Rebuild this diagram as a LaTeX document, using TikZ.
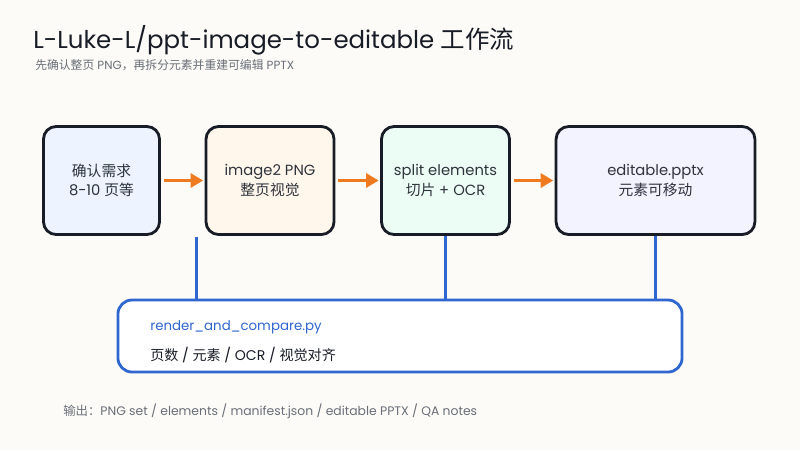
\documentclass[tikz,border=0pt]{standalone}
\usepackage{fontspec}
\setmainfont{Poppins}
\newfontfamily\cjk{Noto Sans CJK SC}
\usepackage{xcolor}
\definecolor{pagebg}{RGB}{252,251,247}
\definecolor{inkdark}{RGB}{24,28,38}
\definecolor{inkgray}{RGB}{105,110,120}
\definecolor{flowblue}{RGB}{47,102,208}
\definecolor{floworange}{RGB}{240,122,32}
\definecolor{fillblue}{RGB}{238,244,255}
\definecolor{fillpeach}{RGB}{255,247,236}
\definecolor{fillmint}{RGB}{236,253,245}
\definecolor{filllilac}{RGB}{243,242,255}
\usetikzlibrary{
  arrows.meta,
  positioning,
  calc
}
\newcommand{\zh}[1]{{\cjk #1}}

\begin{document}
\begin{tikzpicture}[
    x=0.025cm, y=-0.025cm,
    stagebox/.style={draw=inkdark, line width=2pt, rounded corners=9pt,
      minimum height=2.7cm, align=center, text=inkdark!90, font=\fontsize{10.5}{14}\selectfont},
    flowarrow/.style={floworange, line width=2.2pt, -{Triangle[length=9pt, width=10pt]}},
    tapline/.style={flowblue, line width=2pt}
  ]

  %% --- Page ---
  \fill[pagebg] (0,0) rectangle (800,450);

  %% --- Heading ---
  \node[anchor=base west, inner sep=0pt, text=inkdark, font=\fontsize{17.4}{20}\selectfont] (title) at (33,48)
    {L-Luke-L/ppt-image-to-editable \zh{工作流}};
  \node[anchor=base west, inner sep=0pt, text=inkgray, font=\fontsize{8.4}{10}\selectfont] (subtitle) at (35,69)
    {\zh{先确认整页} PNG\zh{，再拆分元素并重建可编辑} PPTX};

  %% --- Stages ---
  \node[stagebox, fill=fillblue, minimum width=2.9cm] (need) at (101.5,180.5)
    {\zh{确认需求}\\8-10 \zh{页等}};
  \node[stagebox, fill=fillpeach, minimum width=3.2cm] (png) at (270,180.5)
    {image2 PNG\\\zh{整页视觉}};
  \node[stagebox, fill=fillmint, minimum width=3.2cm] (split) at (445.5,180.5)
    {split elements\\\zh{切片} + OCR};
  \node[stagebox, fill=filllilac, minimum width=4.97cm] (pptx) at (655.5,180.5)
    {editable.pptx\\\zh{元素可移动}};

  %% --- Flow ---
  \draw[flowarrow] ([xshift=2pt]need.east) -- ([xshift=-1pt]png.west);
  \draw[flowarrow] ([xshift=2pt]png.east) -- ([xshift=-1pt]split.west);
  \draw[flowarrow] ([xshift=2pt]split.east) -- ([xshift=-1pt]pptx.west);

  %% --- Check bar ---
  \node[draw=flowblue, line width=2pt, fill=white, rounded corners=10pt,
        minimum width=14.1cm, minimum height=1.8cm] (check) at (400,336) {};
  \node[anchor=base west, inner sep=0pt, text=flowblue, font=\fontsize{9.5}{11}\selectfont] (script) at (150,330)
    {render\_and\_compare.py};
  \node[anchor=base west, inner sep=0pt, text=inkdark, font=\fontsize{10}{12}\selectfont] (checks) at (150,360)
    {\zh{页数} / \zh{元素} / OCR / \zh{视觉对齐}};

  %% --- Taps ---
  \coordinate (tap) at (196.5,237);
  \draw[tapline] (tap) -- (check.north -| tap);
  \draw[tapline] (split.south) -- (check.north -| split.south);
  \draw[tapline] (pptx.south) -- (check.north -| pptx.south);

  %% --- Footer ---
  \node[anchor=base west, inner sep=0pt, text=inkgray, font=\fontsize{8.8}{10}\selectfont] (outputs) at (63,415)
    {\zh{输出：}PNG set / elements / manifest.json / editable PPTX / QA notes};
\end{tikzpicture}
\end{document}
